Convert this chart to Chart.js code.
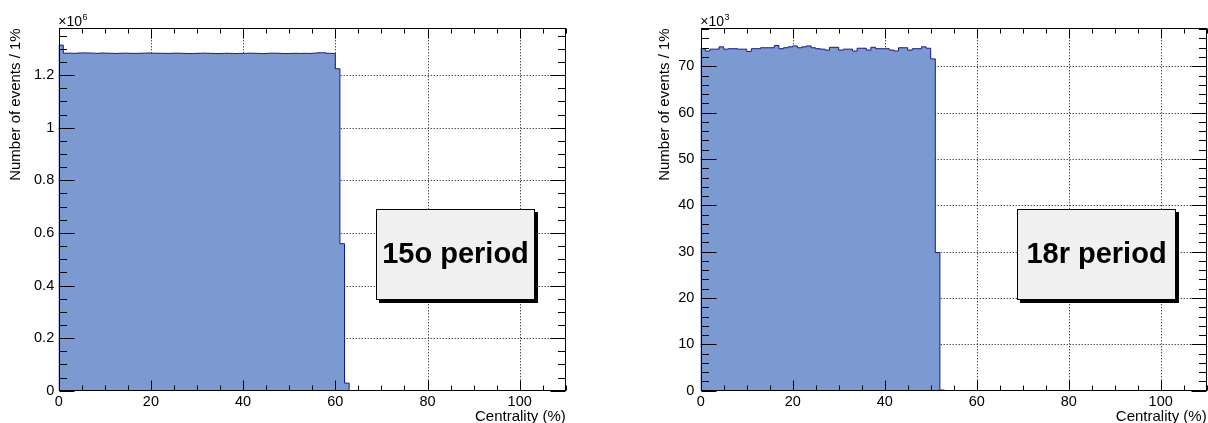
<!DOCTYPE html>
<html>
<head>
<meta charset="utf-8">
<title>Centrality distributions</title>
<script src="https://cdn.jsdelivr.net/npm/chart.js@4"></script>
<style>
  body { margin: 0; background: #fff; }
  .panel { position: absolute; top: 0; width: 604px; height: 423px; }
</style>
</head>
<body>
<div class="panel" style="left:0"><canvas id="chart15o" width="604" height="423"></canvas></div>
<div class="panel" style="left:604px"><canvas id="chart18r" width="604" height="423"></canvas></div>
<script>
'use strict';

// 1% wide centrality bins, axis runs to 110%
const binWidth = 1;
const xMax = 110;
const xTicks = [0, 20, 40, 60, 80, 100];

const xTitle = 'Centrality (%)';
const yTitle = 'Number of events / 1%';

// LHC15o: events per bin, starting at 0%
const counts15o = [
  1314000,
  1283000, 1283500, 1283000, 1284000, 1284500, 1284000, 1283500, 1283000, 1284000, 1283500,
  1283000, 1282500, 1283000, 1283500, 1283000, 1282500, 1283000, 1283500, 1284000, 1283500,
  1283000, 1283000, 1282500, 1283000, 1283500, 1283000, 1282500, 1282000, 1282500, 1283000,
  1283500, 1283000, 1282500, 1282000, 1282500, 1283000, 1282500, 1282000, 1282500, 1283000,
  1283500, 1283000, 1282500, 1282000, 1283000, 1283500, 1283000, 1282500, 1282000, 1282500,
  1283000, 1282500, 1283000, 1282500, 1283500, 1285000, 1285000, 1283000, 1282500,
  1224000, 559000, 29000
];
const yMax15o = 1378000;
const yTicks15o = [0, 200000, 400000, 600000, 800000, 1000000, 1200000];

// LHC18r: events per bin, starting at 0%
const counts18r = [
  73800, 73300, 73700, 73700, 74200, 73700, 73800, 73800, 73700, 73700,
  73200, 73800, 73800, 74000, 74000, 74000, 74500, 73800, 74000, 74200,
  74400, 74000, 74200, 74400, 74000, 73800, 73700, 73500, 74100, 74100,
  73500, 73700, 73700, 73300, 73900, 73900, 73500, 74100, 73800, 73800,
  73800, 73500, 73300, 74000, 74000, 73500, 73800, 73800, 74200, 73900,
  71600, 29800, 150
];
const yMax18r = 78200;
const yTicks18r = [0, 10000, 20000, 30000, 40000, 50000, 60000, 70000];

const fillColor = 'rgb(123, 154, 210)';
const lineColor = 'rgb(20, 24, 150)';
const fontFamily = '"Liberation Sans", Arial, Helvetica, sans-serif';

Chart.defaults.font.family = fontFamily;
Chart.defaults.color = '#000';

// outline of the histogram: left bin edges, then the empty bins down to zero
function histogramPoints(counts) {
  let points = [{x: 0, y: 0}];
  for (let i = 0; i < counts.length; i++) {
    points.push({x: i * binWidth, y: counts[i]});
  }
  points.push({x: counts.length * binWidth, y: 0});
  points.push({x: xMax, y: 0});
  return points;
}

// ROOT style frame: dotted grid, ticks on all four sides, exponent and the period box
const rootFrame = {
  id: 'rootFrame',
  beforeDatasetsDraw(chart, args, opts) {
    const {ctx, chartArea: a, scales: {x, y}} = chart;
    ctx.save();
    ctx.strokeStyle = '#000';
    ctx.lineWidth = 1;
    ctx.setLineDash([1, 2]);
    ctx.beginPath();
    for (let v = opts.majorX; v < x.max; v += opts.majorX) {
      let px = Math.round(x.getPixelForValue(v)) + 0.5;
      ctx.moveTo(px, a.top);
      ctx.lineTo(px, a.bottom);
    }
    for (let v = opts.majorY; v < y.max; v += opts.majorY) {
      let py = Math.round(y.getPixelForValue(v)) + 0.5;
      ctx.moveTo(a.left, py);
      ctx.lineTo(a.right, py);
    }
    ctx.stroke();
    ctx.restore();
  },
  afterDatasetsDraw(chart, args, opts) {
    const {ctx, chartArea: a, scales: {x, y}} = chart;
    let left = Math.round(a.left) + 0.5;
    let right = Math.round(a.right) - 0.5;
    let top = Math.round(a.top) + 0.5;
    let bottom = Math.round(a.bottom) - 0.5;
    ctx.save();
    ctx.strokeStyle = '#000';
    ctx.lineWidth = 1;
    ctx.beginPath();
    for (let v = 0; v <= x.max; v += opts.minorX) {
      let px = Math.round(x.getPixelForValue(v)) + 0.5;
      let len = v % opts.majorX === 0 ? 10 : 5;
      ctx.moveTo(px, bottom);
      ctx.lineTo(px, bottom - len);
      ctx.moveTo(px, top);
      ctx.lineTo(px, top + len);
    }
    for (let v = 0; v <= y.max; v += opts.minorY) {
      let py = Math.round(y.getPixelForValue(v)) + 0.5;
      let len = v % opts.majorY === 0 ? 15 : 7.5;
      ctx.moveTo(left, py);
      ctx.lineTo(left + len, py);
      ctx.moveTo(right, py);
      ctx.lineTo(right - len, py);
    }
    ctx.stroke();
    ctx.strokeRect(left, top, right - left, bottom - top);
    ctx.restore();
  },
  afterDraw(chart, args, opts) {
    const {ctx, chartArea: a} = chart;
    ctx.save();
    ctx.fillStyle = '#000';
    ctx.textBaseline = 'alphabetic';
    ctx.textAlign = 'left';
    ctx.font = '14px ' + fontFamily;
    ctx.fillText('\u00d710', a.left - 0.5, 26);
    let w = ctx.measureText('\u00d710').width;
    ctx.font = '9px ' + fontFamily;
    ctx.fillText(opts.exponent, a.left + w, 19.5);

    // period label box with a drop shadow
    let bw = a.right - a.left;
    let bh = a.bottom - a.top;
    let bx = Math.round(a.left + 0.626 * bw) + 0.5;
    let by = Math.round(a.top + 0.4995 * bh) + 0.5;
    let boxW = Math.round(0.312 * bw);
    let boxH = Math.round(0.2485 * bh);
    ctx.fillStyle = '#000';
    ctx.fillRect(bx + 2.5, by + 2.5, boxW + 1, boxH + 1);
    ctx.fillStyle = '#f0f0f0';
    ctx.fillRect(bx, by, boxW, boxH);
    ctx.strokeStyle = '#000';
    ctx.lineWidth = 1;
    ctx.strokeRect(bx, by, boxW, boxH);
    ctx.fillStyle = '#000';
    ctx.textAlign = 'center';
    ctx.font = 'bold 29px ' + fontFamily;
    ctx.fillText(opts.label, bx + boxW / 2, by + 53.5);
    ctx.restore();
  }
};

function makeChart(canvasId, counts, yMax, yTicks, setup) {
  let ctx = document.getElementById(canvasId);
  return new Chart(ctx, {
    type: 'line',
    data: {
      datasets: [{
        data: histogramPoints(counts),
        stepped: 'before',
        fill: 'origin',
        backgroundColor: fillColor,
        borderColor: lineColor,
        borderWidth: 1,
        pointRadius: 0
      }]
    },
    options: {
      responsive: false,
      animation: false,
      layout: {padding: {left: 0, right: setup.padRight, top: 28.3, bottom: 0}},
      plugins: {
        legend: {display: false},
        tooltip: {enabled: false},
        rootFrame: {
          majorX: 20, minorX: 5,
          majorY: setup.majorY, minorY: setup.minorY,
          exponent: setup.exponent,
          label: setup.label
        }
      },
      scales: {
        x: {
          type: 'linear',
          min: 0,
          max: xMax,
          grid: {display: false, drawTicks: false},
          border: {display: false},
          ticks: {
            autoSkip: false,
            maxRotation: 0,
            padding: 3,
            font: {size: 14.5}
          },
          afterBuildTicks(scale) {
            scale.ticks = xTicks.map((v) => ({value: v}));
          },
          title: {
            display: true,
            text: xTitle,
            align: 'end',
            font: {size: 15},
            padding: {top: 0, bottom: -2.5}
          },
          afterFit(scale) { scale.height = 32.3; }
        },
        y: {
          min: 0,
          max: yMax,
          grid: {display: false, drawTicks: false},
          border: {display: false},
          ticks: {
            autoSkip: false,
            padding: setup.labelPad,
            font: {size: 14.5},
            callback: setup.format
          },
          afterBuildTicks(scale) {
            scale.ticks = yTicks.map((v) => ({value: v}));
          },
          title: {
            display: true,
            text: yTitle,
            align: 'end',
            font: {size: 15},
            padding: {top: setup.titlePad, bottom: 0}
          },
          afterFit(scale) { scale.width = setup.axisWidth; }
        }
      }
    },
    plugins: [rootFrame]
  });
}

makeChart('chart15o', counts15o, yMax15o, yTicks15o, {
  label: '15o period',
  exponent: '6',
  majorY: 200000,
  minorY: 50000,
  format: (v) => String(+(v / 1e6).toFixed(1)),
  axisWidth: 58.7,
  padRight: 38.2,
  labelPad: 4.5,
  titlePad: 6.5
});

makeChart('chart18r', counts18r, yMax18r, yTicks18r, {
  label: '18r period',
  exponent: '3',
  majorY: 10000,
  minorY: 2000,
  format: (v) => String(Math.round(v / 1e3)),
  axisWidth: 96.7,
  padRight: 1.3,
  labelPad: 6.4,
  titlePad: 52.3
});
</script>
</body>
</html>
